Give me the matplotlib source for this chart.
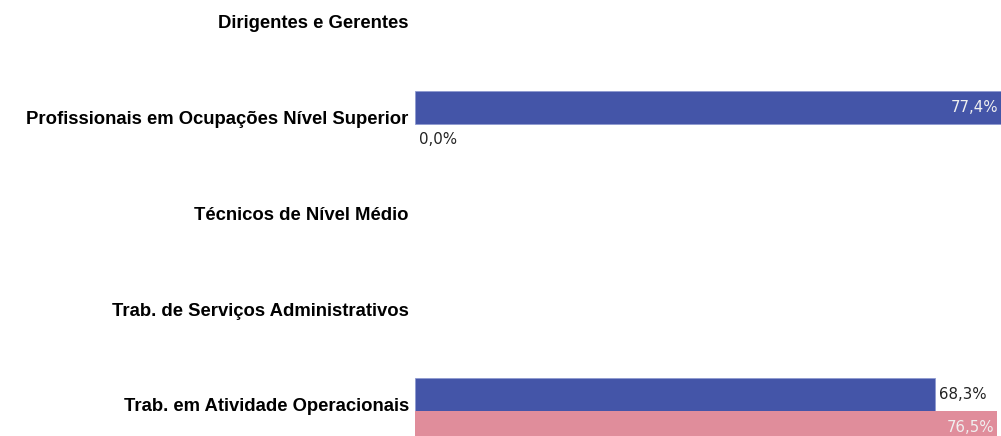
import matplotlib.pyplot as plt
import matplotlib.transforms as mtransforms
import numpy as np

# ---- data ----
categories = ["Dirigentes e Gerentes",
              "Profissionais em Ocupações Nível Superior",
              "Técnicos de Nível Médio",
              "Trab. de Serviços Administrativos",
              "Trab. em Atividade Operacionais"]
serie_azul = [np.nan, 77.4, np.nan, np.nan, 68.3]
serie_rosa = [np.nan, 0.0, np.nan, np.nan, 76.5]

cor_azul = "#4455a8"
cor_rosa = "#e08d9b"

W, H = 1001, 436
fig = plt.figure(figsize=(W / 100, H / 100), dpi=100)
ax = fig.add_axes([415 / W, 0, 1 - 415 / W, 1])

y = np.arange(len(categories))
h = 0.34
ax.barh(y - h / 2, serie_azul, height=h, color=cor_azul, edgecolor="#8f9ad0", linewidth=0.6)
ax.barh(y + h / 2, serie_rosa, height=h, color=cor_rosa, linewidth=0)

xmax = 77.0
ax.set_xlim(0, xmax)
# group centres at ~28px from top, 95.7px apart
ax.set_ylim((H - 28) / 95.7, -28 / 95.7)

# value labels
def rotula(vals, off):
    for i, v in enumerate(vals):
        if np.isnan(v):
            continue
        txt = f"{v:.1f}%".replace(".", ",")
        if v > 70:
            ax.annotate(txt, (min(v, xmax), i + off), xytext=(-2, 0), textcoords="offset points",
                        ha="right", va="center", fontsize=10.8, color="#f0f0f0",
                        family="DejaVu Sans", annotation_clip=False)
        else:
            ax.annotate(txt, (v, i + off), xytext=(3, 0), textcoords="offset points",
                        ha="left", va="center", fontsize=10.8, color="#222222",
                        family="DejaVu Sans")

rotula(serie_azul, -h / 2)
rotula(serie_rosa, h / 2)

ax.set_yticks(y)
ax.set_yticklabels(categories, fontsize=13.3, fontweight="bold", family="Liberation Sans")
ax.tick_params(axis="y", length=0, pad=4.5)
shift = mtransforms.ScaledTranslation(0, 6 / 100, fig.dpi_scale_trans)
for lab in ax.get_yticklabels():
    lab.set_transform(lab.get_transform() + shift)
ax.set_xticks([])
for s in ax.spines.values():
    s.set_visible(False)

fig.savefig("out.png", dpi=100)
